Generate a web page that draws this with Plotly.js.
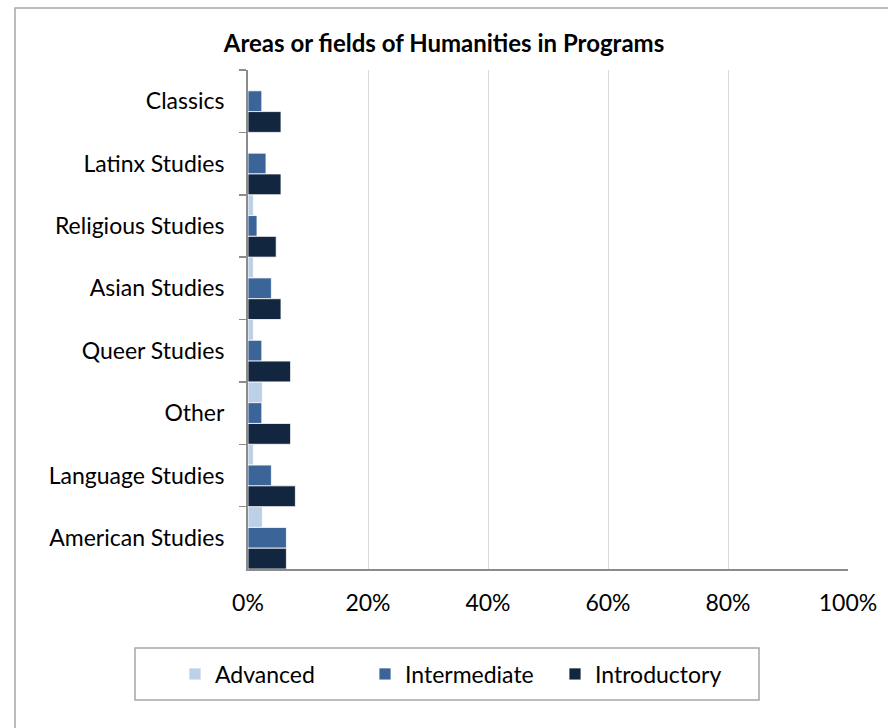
<!DOCTYPE html>
<html>
<head>
<meta charset="utf-8">
<script src="https://cdn.plot.ly/plotly-3.0.1.min.js"></script>
<style>
html,body{margin:0;padding:0;background:#fff;}
#chart{width:888px;height:728px;}
</style>
</head>
<body>
<div id="chart"></div>
<script>
const categories = ["Classics","Latinx Studies","Religious Studies","Asian Studies","Queer Studies","Other","Language Studies","American Studies"];
const advanced     = [0.0, 0.0, 0.9, 0.9, 0.9, 2.4, 0.9, 2.4];
const intermediate = [2.3, 3.0, 1.5, 3.9, 2.3, 2.3, 3.9, 6.4];
const introductory = [5.5, 5.5, 4.7, 5.5, 7.1, 7.1, 7.9, 6.4];
const seriesNames = ["Advanced","Intermediate","Introductory"];
const xTickVals = [0,20,40,60,80,100];
const xTickText = ["0%","20%","40%","60%","80%","100%"];

const FONT = "Lato, 'Open Sans', sans-serif";
const colors = ["#bcd0e8","#3b6599","#13263f"];
const seriesVals = [advanced, intermediate, introductory];

const traces = seriesVals.map((v,i)=>({
  type:"bar",
  orientation:"h",
  name: seriesNames[i],
  y: categories,
  x: v,
  marker:{color:colors[i], line:{color:"#ffffff", width:0.8}},
  hoverinfo:"none"
}));

// plot area: x 248..848, y 70..569
const L=248, R=848, T=70, B=569;
const px = x => (x-L)/(R-L);
const py = y => (B-y)/(B-T);

const layout = {
  width:888, height:728,
  margin:{l:L, r:888-R, t:T, b:728-B, pad:0},
  paper_bgcolor:"#ffffff",
  plot_bgcolor:"#ffffff",
  font:{family:FONT, size:23, color:"#000000"},
  title:{text:"<b>Areas or fields of Humanities in Programs</b>",
         font:{family:FONT, size:24, color:"#000000"},
         xref:"container", x:0.5, xanchor:"center",
         yref:"container", y:1-44/728, yanchor:"middle"},
  barmode:"group",
  bargap:0,
  bargroupgap:0,
  xaxis:{range:[0,100], tickvals:xTickVals, ticktext:xTickText,
         showgrid:true, gridcolor:"#d9d9d9", gridwidth:1,
         zeroline:false, showline:true, linecolor:"#8c8c8c", linewidth:2,
         ticks:"", ticklabelstandoff:12, tickfont:{size:23}, fixedrange:true},
  yaxis:{categoryorder:"array", categoryarray:categories, autorange:"reversed",
         showline:true, linecolor:"#8c8c8c", linewidth:2,
         ticks:"outside", tickson:"boundaries", ticklen:7, tickcolor:"#8c8c8c", tickwidth:1.5,
         ticklabelstandoff:17, showgrid:false, zeroline:false, tickfont:{size:23}, fixedrange:true},
  showlegend:true,
  legend:{orientation:"h", xref:"container", yref:"container",
          x:175/888, xanchor:"left", y:1-674/728, yanchor:"middle",
          entrywidth:145, entrywidthmode:"pixels",
          font:{size:23}, bgcolor:"rgba(0,0,0,0)", borderwidth:0, traceorder:"normal"},
  shapes:[
    {type:"rect", xref:"paper", yref:"paper",
     x0:px(15), x1:px(900), y0:py(8), y1:py(740),
     line:{color:"#a6a6a6", width:1.5}, fillcolor:"rgba(0,0,0,0)", layer:"below"},
    {type:"rect", xref:"paper", yref:"paper",
     x0:px(135), x1:px(759), y0:py(648), y1:py(700),
     line:{color:"#a6a6a6", width:1.5}, fillcolor:"rgba(0,0,0,0)", layer:"below"}
  ]
};

Plotly.newPlot("chart", traces, layout, {displayModeBar:false, staticPlot:true});
</script>
</body>
</html>
